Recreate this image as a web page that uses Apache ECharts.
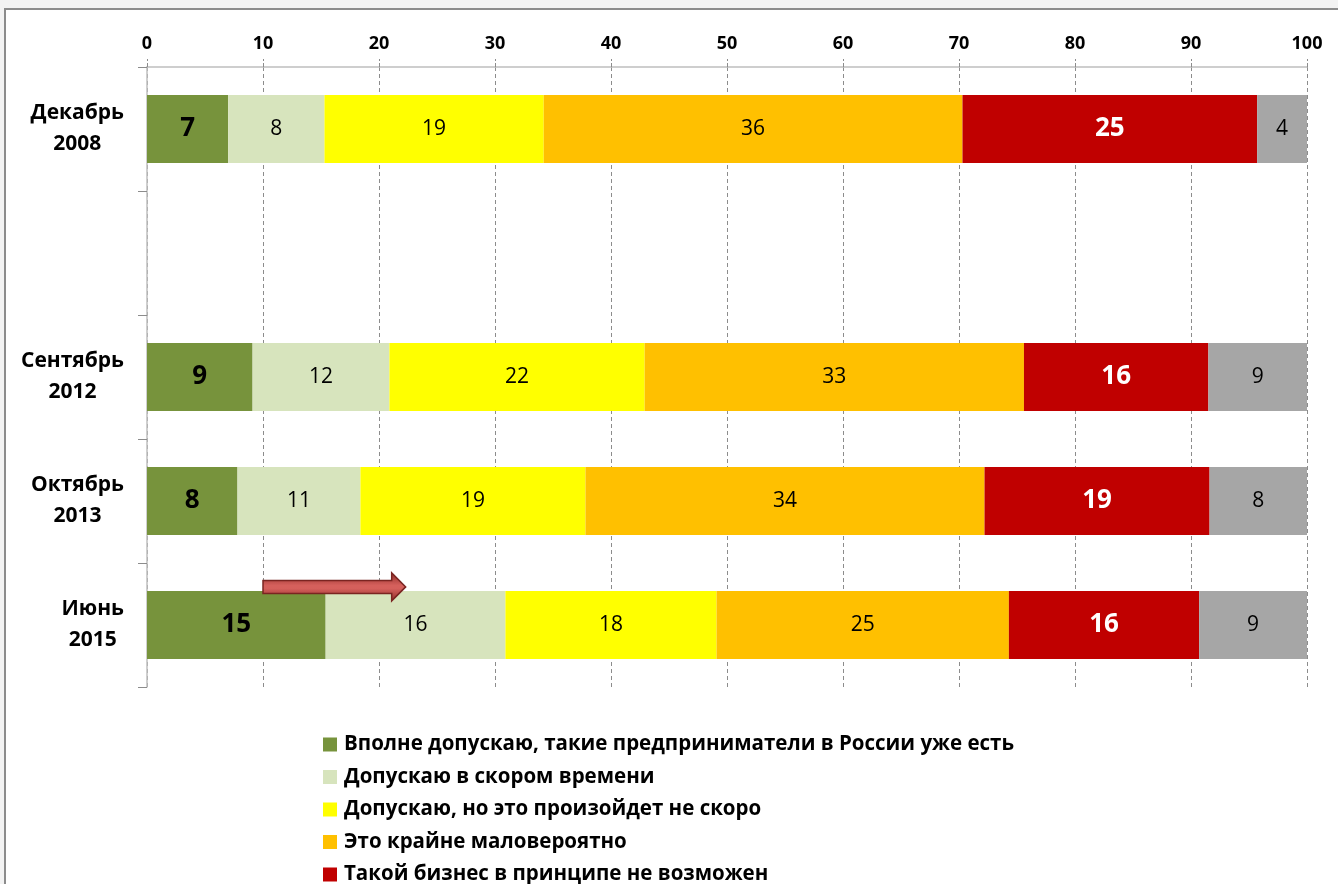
<!DOCTYPE html>
<html>
<head>
<meta charset="utf-8">
<script src="https://cdn.jsdelivr.net/npm/echarts@6/dist/echarts.min.js"></script>
<style>
html,body{margin:0;padding:0;background:#f3f3f3;}
#c{width:1338px;height:884px;}
</style>
</head>
<body>
<div id="c"></div>
<script>
const categories = ['Декабрь 2008', '', 'Сентябрь 2012', 'Октябрь 2013', 'Июнь 2015'];
const seriesNames = [
  'Вполне допускаю, такие предприниматели в России уже есть',
  'Допускаю в скором времени',
  'Допускаю, но это произойдет не скоро',
  'Это крайне маловероятно',
  'Такой бизнес в принципе не возможен',
  'Затрудняюсь ответить'
];
const colors = ['#77933c', '#d7e4bd', '#ffff00', '#ffc000', '#c00000', '#a6a6a6'];
// values per series, in category order (null for empty row)
const vFullyAdmit = [7.0, null, 9.1, 7.8, 15.4];
const vSoon       = [8.3, null, 11.8, 10.6, 15.5];
const vNotSoon    = [18.9, null, 22.0, 19.4, 18.2];
const vUnlikely   = [36.1, null, 32.7, 34.4, 25.2];
const vImpossible = [25.4, null, 15.9, 19.4, 16.4];
const vDontKnow   = [4.3, null, 8.5, 8.4, 9.3];
const seriesValues = [vFullyAdmit, vSoon, vNotSoon, vUnlikely, vImpossible, vDontKnow];
const xTicks = [0, 100, 10];
// arrow annotation (value range, category)
const arrowFrom = 10, arrowTo = 22.3, arrowCategory = 'Июнь 2015';

const FONT = '"Open Sans", sans-serif';
const boldLabel = [true, false, false, false, true, false];
const labelColor = ['#000', '#000', '#000', '#000', '#fff', '#000'];

const chart = echarts.init(document.getElementById('c'), null, {renderer: 'canvas'});

const series = seriesValues.map((vals, i) => ({
  name: seriesNames[i],
  type: 'bar',
  stack: 'total',
  barWidth: '55%',
  data: vals,
  itemStyle: {color: colors[i]},
  label: {
    show: true,
    position: 'inside',
    formatter: p => p.value == null ? '' : String(Math.round(p.value)),
    fontFamily: FONT,
    fontSize: boldLabel[i] ? 26 : 21,
    fontWeight: boldLabel[i] ? 'bold' : 'normal',
    color: labelColor[i]
  },
  emphasis: {disabled: true}
}));

chart.setOption({
  animation: false,
  backgroundColor: 'transparent',
  textStyle: {fontFamily: FONT},
  grid: {left: 147, right: 31, top: 67, bottom: 197, containLabel: false},
  xAxis: {
    type: 'value', position: 'top',
    min: xTicks[0], max: xTicks[1], interval: xTicks[2],
    axisLine: {show: true, lineStyle: {color: '#bfbfbf', width: 1.5}},
    axisTick: {show: true, inside: false, length: 8, lineStyle: {color: '#8c8c8c', type: 'dashed'}},
    splitLine: {show: true, lineStyle: {color: '#8c8c8c', type: [4, 3], width: 1}},
    axisLabel: {color: '#000', fontFamily: FONT, fontSize: 18, fontWeight: 'bold', margin: 14}
  },
  yAxis: {
    type: 'category', inverse: true, data: categories,
    axisLine: {show: true, lineStyle: {color: '#bfbfbf', width: 1.5}},
    axisTick: {show: true, length: 9, alignWithLabel: false, lineStyle: {color: '#8c8c8c'}},
    splitLine: {show: false},
    axisLabel: {
      margin: 23, align: 'right',
      formatter: v => v ? v.split(' ').map(s => '{a|' + s + '}').join('\n') : '',
      rich: {a: {align: 'center', fontFamily: FONT, fontSize: 21, fontWeight: 'bold', color: '#000', lineHeight: 31}}
    }
  },
  legend: {
    orient: 'vertical', left: 318, top: 729, height: 220,
    data: seriesNames.slice(0, 5),
    icon: 'rect', itemWidth: 14, itemHeight: 14, itemGap: 11.5,
    textStyle: {fontFamily: FONT, fontSize: 20.5, fontWeight: 'bold', color: '#000', lineHeight: 20, padding: [0, 0, 0, 2]},
    selectedMode: false
  },
  series: series
});

function drawExtras() {
  const yIdx = categories.indexOf(arrowCategory);
  const p0 = chart.convertToPixel({gridIndex: 0}, [arrowFrom, categories[yIdx]]);
  const p1 = chart.convertToPixel({gridIndex: 0}, [arrowTo, categories[yIdx]]);
  const pPrev = chart.convertToPixel({gridIndex: 0}, [arrowFrom, categories[yIdx - 1]]);
  const band = p0[1] - pPrev[1];
  const cy = p0[1] - band * 0.275 - 4;
  const x0 = p0[0], x1 = p1[0];
  const bh = 6.5, hh = 14, hl = 14;
  const pts = [
    [x0, cy - bh], [x1 - hl, cy - bh], [x1 - hl, cy - hh], [x1, cy],
    [x1 - hl, cy + hh], [x1 - hl, cy + bh], [x0, cy + bh]
  ];
  chart.setOption({
    graphic: [
      {type: 'rect', z: -10, silent: true, shape: {x: 5, y: 9, width: 1400, height: 900},
       style: {fill: '#ffffff', stroke: '#8c8c8c', lineWidth: 2}},
      {type: 'polygon', z: 100, silent: true, shape: {points: pts},
       style: {
         fill: new echarts.graphic.LinearGradient(0, 0, 0, 1, [
           {offset: 0, color: '#8e2b28'}, {offset: 0.45, color: '#d5605c'},
           {offset: 0.55, color: '#d5605c'}, {offset: 1, color: '#8e2b28'}
         ]),
         stroke: '#7a2421', lineWidth: 1.5
       }}
    ]
  });
}
drawExtras();
</script>
</body>
</html>
